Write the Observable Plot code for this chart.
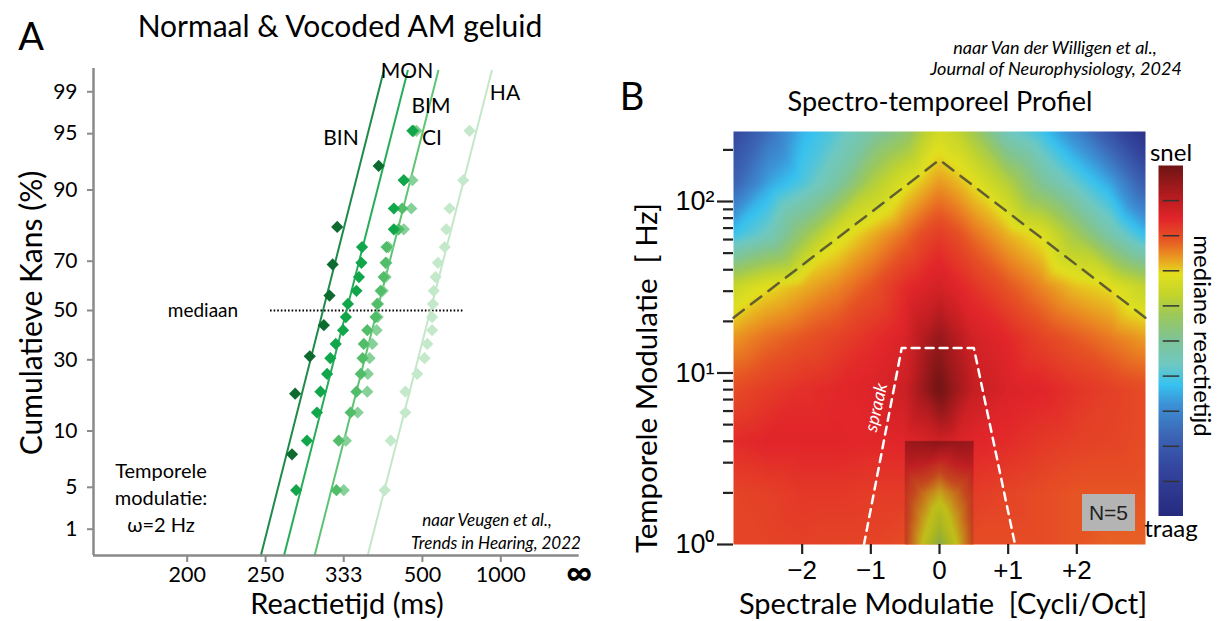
<!DOCTYPE html>
<html><head><meta charset="utf-8">
<script src="https://cdn.jsdelivr.net/npm/d3@7"></script>
<script src="https://cdn.jsdelivr.net/npm/@observablehq/plot@0.6"></script>
<style>
html,body{margin:0;padding:0;background:#fff;}
#wrap{position:relative;width:1223px;height:621px;overflow:hidden;font-family:Lato,sans-serif;color:#000;}
.abs{position:absolute;}
.t{position:absolute;white-space:pre;line-height:1.15;transform:translate(-50%,-50%);}
.it{font-style:italic;}
.tight{line-height:0.8;}
</style></head><body>
<div id="wrap">
  <div id="plotA" class="abs" style="left:0;top:0"></div>
  <div id="plotB" class="abs" style="left:600px;top:0"></div>
  <div id="cbar" class="abs" style="left:1158px;top:165px"></div>

  <div class="t" style="left:31px;top:36px;font-size:38px">A</div>
  <div class="t" style="left:340px;top:25px;font-size:30px">Normaal &amp; Vocoded AM geluid</div>
  <div class="t" style="left:30px;top:313px;font-size:30px;transform:translate(-50%,-50%) rotate(-90deg)">Cumulatieve Kans (%)</div>
  <div class="t tight" style="left:347px;top:603px;font-size:29px">Reactietijd (ms)</div>
  <div class="t" style="left:341px;top:137px;font-size:21px">BIN</div>
  <div class="t" style="left:407px;top:70px;font-size:21px">MON</div>
  <div class="t" style="left:431px;top:105px;font-size:21px">BIM</div>
  <div class="t" style="left:432px;top:137px;font-size:21px">CI</div>
  <div class="t" style="left:505px;top:92px;font-size:21px">HA</div>
  <div class="t" style="left:203px;top:310px;font-size:19px">mediaan</div>
  <div class="t" style="left:161px;top:497px;font-size:20px;text-align:center;line-height:27px">Temporele
modulatie:
ω=2 Hz</div>
  <div class="t it" style="left:487px;top:520px;font-size:17px">naar Veugen et al.,</div>
  <div class="t it" style="left:496px;top:543px;font-size:17px">Trends in Hearing, 2022</div>

  <div class="t" style="left:632px;top:96px;font-size:38px">B</div>
  <div class="t" style="left:940px;top:101px;font-size:27px">Spectro-temporeel Profiel</div>
  <div class="t it" style="left:1055px;top:47px;font-size:18px">naar Van der Willigen et al.,</div>
  <div class="t it" style="left:1056px;top:68px;font-size:18px">Journal of Neurophysiology, 2024</div>
  <div class="t" style="left:646px;top:378px;font-size:29.5px;transform:translate(-50%,-50%) rotate(-90deg)">Temporele Modulatie  [ Hz]</div>
  <div class="t tight" style="left:943px;top:603px;font-size:29px">Spectrale Modulatie  [Cycli/Oct]</div>
  <div class="t" style="left:1171px;top:152px;font-size:24px">snel</div>
  <div class="t" style="left:1171px;top:528px;font-size:24px">traag</div>
  <div class="t" style="left:1203px;top:336px;font-size:24px;transform:translate(-50%,-50%) rotate(90deg)">mediane reactietijd</div>
  <div class="abs" style="left:1082px;top:494px;width:53px;height:37px;background:#b4b4b4;font-family:'Liberation Sans',Arial,sans-serif;font-size:21px;line-height:37px;text-align:center;color:#222">N=5</div>
</div>
<script>
// ================= Panel A data =================
const cumPct8  = [6.3, 18.8, 31.3, 43.8, 56.3, 68.8, 81.3, 93.8];
const cumPct18 = [2.8, 8.3, 13.9, 19.4, 25.0, 30.6, 36.1, 41.7, 47.2, 52.8, 58.3, 63.9, 69.4, 75.0, 80.6, 86.1, 91.7, 97.2];
const rtBIN = [273, 276, 291, 307, 314, 318, 324, 391];
const rtMON = [277, 288, 299, 303, 311, 315, 322, 332, 336, 339, 352, 356, 360, 361, 423, 423, 447, 470];
const rtBIM = [323, 326, 343, 352, 359, 362, 364, 370, 385, 388, 395, 401, 405, 407, 434, 443, 447, 474];
const rtCI  = [333, 336, 354, 370, 371, 374, 379, 387, 389, 390, 399, 405, 407, 411, 447, 467, 470, 482];
const rtHA  = [403, 416, 451, 451, 484, 507, 516, 533, 533, 536, 539, 546, 555, 583, 590, 605, 676, 715];
const fitNames    = ["BIN", "MON", "BIM/CI", "HA"];
const fitMedianRT = [306, 337, 388, 527];      // ms at 50 %
const fitSlope    = [0.304, 0.306, 0.306, 0.307]; // 1/s per SD
const xTickRT     = [200, 250, 333, 500, 1000];
const yTickAt     = [1, 3, 10, 30, 50, 70, 90, 97, 99];
const yTickLabels = ["1", "5", "10", "30", "50", "70", "90", "95", "99"];
const medianLineRT = [254, 678];

// ================= Panel B data =================
const smX  = [-3, -2.5, -2, -1.5, -1, -0.5, -0.25, 0, 0.25, 0.5, 1, 1.5, 2, 2.5, 3];
const tmHz = [1, 2, 4, 8, 16, 32, 64, 128, 256];
// relative median reaction time: 0 = snel, 1 = traag ; rows follow tmHz
const rtGrid = [
  [0.19, 0.19, 0.185, 0.19, 0.19, 0.20, 0.20, 0.20, 0.20, 0.20, 0.20, 0.20, 0.21, 0.22, 0.22],
  [0.19, 0.185, 0.175, 0.175, 0.18, 0.18, 0.18, 0.18, 0.18, 0.18, 0.19, 0.20, 0.21, 0.21, 0.21],
  [0.16, 0.15, 0.15, 0.15, 0.155, 0.15, 0.14, 0.12, 0.14, 0.15, 0.16, 0.175, 0.185, 0.19, 0.20],
  [0.20, 0.18, 0.165, 0.155, 0.145, 0.12, 0.06, 0.00, 0.06, 0.11, 0.14, 0.15, 0.17, 0.185, 0.20],
  [0.26, 0.23, 0.21, 0.19, 0.165, 0.14, 0.09, 0.05, 0.09, 0.13, 0.155, 0.19, 0.215, 0.24, 0.265],
  [0.36, 0.31, 0.28, 0.25, 0.21, 0.16, 0.145, 0.13, 0.15, 0.17, 0.21, 0.25, 0.29, 0.31, 0.37],
  [0.62, 0.56, 0.44, 0.33, 0.28, 0.23, 0.20, 0.18, 0.20, 0.23, 0.28, 0.32, 0.42, 0.53, 0.63],
  [0.78, 0.66, 0.60, 0.52, 0.40, 0.32, 0.29, 0.26, 0.28, 0.31, 0.39, 0.50, 0.58, 0.66, 0.80],
  [0.86, 0.75, 0.64, 0.59, 0.52, 0.46, 0.39, 0.34, 0.37, 0.42, 0.56, 0.62, 0.71, 0.83, 0.96]
];
const insetX  = [-0.5, -0.25, 0, 0.25, 0.5];
const insetHz = [1, 1.41, 2, 2.83, 4];
const insetGrid = [
  [0.20, 0.31, 0.42, 0.31, 0.20],
  [0.19, 0.28, 0.35, 0.28, 0.19],
  [0.18, 0.24, 0.29, 0.24, 0.18],
  [0.15, 0.16, 0.19, 0.16, 0.15],
  [0.09, 0.08, 0.07, 0.08, 0.09]
];
const ridge  = [{sm: -3, hz: 21}, {sm: 0, hz: 175}, {sm: 3, hz: 21}];
const speech = [{sm: -1.1, hz: 1}, {sm: -0.55, hz: 14}, {sm: 0.5, hz: 14}, {sm: 1.1, hz: 1}];
const smTicks = [-2, -1, 0, 1, 2];
const tmMajor = [1, 10, 100];
const tmMinor = [2, 3, 4, 5, 6, 7, 8, 9, 20, 30, 40, 50, 60, 70, 80, 90, 200];
const cbTicks = [0.1, 0.2, 0.3, 0.4, 0.5, 0.6, 0.7, 0.8, 0.9];

// colour map (snel -> traag)
const cStops  = [0, 0.105, 0.153, 0.21, 0.247, 0.284, 0.31, 0.37, 0.426, 0.494, 0.568, 0.625, 0.68, 0.767, 0.864, 1];
const cColors = ["#6e1414","#c21e22","#e2262a","#e65424","#ea8422","#e8b820","#e2e01e","#c2d42c","#9cc85a","#80c494","#6ec8c2","#36c2f0","#3c92d6","#3c66b6","#34459e","#262a7e"];
const colorSpec = {type: "linear", domain: cStops, range: cColors, interpolate: "rgb", clamp: true};

// ---------- helpers ----------
function probit(p) {
  const a=[-3.969683028665376e+01,2.209460984245205e+02,-2.759285104469687e+02,1.383577518672690e+02,-3.066479806614716e+01,2.506628277459239e+00];
  const b=[-5.447609879822406e+01,1.615858368580409e+02,-1.556989798598866e+02,6.680131188771972e+01,-1.328068155288572e+01];
  const c=[-7.784894002430293e-03,-3.223964580411365e-01,-2.400758277161838e+00,-2.549732539343734e+00,4.374664141464968e+00,2.938163982698783e+00];
  const d=[7.784695709041462e-03,3.224671290700398e-01,2.445134137142996e+00,3.754408037684713e+00];
  const pl = 0.02425, ph = 1 - pl; let q, r;
  if (p < pl) { q = Math.sqrt(-2*Math.log(p)); return (((((c[0]*q+c[1])*q+c[2])*q+c[3])*q+c[4])*q+c[5])/((((d[0]*q+d[1])*q+d[2])*q+d[3])*q+1); }
  if (p <= ph) { q = p - 0.5; r = q*q; return (((((a[0]*r+a[1])*r+a[2])*r+a[3])*r+a[4])*r+a[5])*q/(((((b[0]*r+b[1])*r+b[2])*r+b[3])*r+b[4])*r+1); }
  q = Math.sqrt(-2*Math.log(1-p)); return -(((((c[0]*q+c[1])*q+c[2])*q+c[3])*q+c[4])*q+c[5])/((((d[0]*q+d[1])*q+d[2])*q+d[3])*q+1);
}

// ================= Panel A =================
const seriesDefs = [
  {name: "HA",  rt: rtHA,  pct: cumPct18, color: "#c4e9ca"},
  {name: "CI",  rt: rtCI,  pct: cumPct18, color: "#86d197"},
  {name: "BIM", rt: rtBIM, pct: cumPct18, color: "#52bd69"},
  {name: "MON", rt: rtMON, pct: cumPct18, color: "#12a64b"},
  {name: "BIN", rt: rtBIN, pct: cumPct8,  color: "#0e6b30"}
];
const fitColors = ["#1e8b49", "#27ad5a", "#5ec473", "#c3e7c8"];
const promptDomain = [6.195, 0];
const zDomain = [-2.606, 2.574];
const zLineTop = 2.55;
const yTickZ = yTickAt.map(p => probit(p / 100));
const yLabelByZ = new Map(yTickZ.map((z, i) => [z, yTickLabels[i]]));

const fitMarks = fitNames.map((name, i) => {
  const seg = [zDomain[0], zLineTop].map(z => ({P: 1000 / fitMedianRT[i] - fitSlope[i] * z, z}));
  return Plot.line(seg, {x: "P", y: "z", stroke: fitColors[i], strokeWidth: 2});
});
const dotMarks = seriesDefs.map(s => Plot.dot(s.rt.map((rt, i) => ({rt, pct: s.pct[i]})), {
  x: d => 1000 / d.rt, y: d => probit(d.pct / 100), symbol: "diamond2", r: 5.5, fill: s.color, stroke: "none"
}));

const plotA = Plot.plot({
  width: 600, height: 621,
  marginLeft: 93, marginRight: 21.3, marginTop: 68, marginBottom: 66,
  x: {domain: promptDomain},
  y: {domain: zDomain},
  style: {fontFamily: "Lato", fontSize: "21px", background: "transparent", overflow: "visible"},
  marks: [
    Plot.ruleY([0], {x1: 1000 / medianLineRT[0], x2: 1000 / medianLineRT[1], stroke: "#000", strokeWidth: 1.8, strokeDasharray: "1.6,2"}),
    ...fitMarks,
    ...dotMarks,
    Plot.ruleY([zDomain[0]], {stroke: "#8a8a8a", strokeWidth: 2.5}),
    Plot.ruleX([promptDomain[0]], {stroke: "#8a8a8a", strokeWidth: 2.5}),
    Plot.axisX({ticks: xTickRT.map(r => 1000 / r), tickFormat: p => String(Math.round(1000 / p)), tickSize: 7, tickPadding: 4,
      stroke: "#8a8a8a", strokeWidth: 2, fill: "#000", fontSize: 21.5, label: null}),
    Plot.axisX({ticks: [0], tickFormat: () => "\u221E", tickSize: 0, tickPadding: 4, fill: "#000", fontSize: 36, fontWeight: "bold", label: null}),
    Plot.axisY({ticks: yTickZ, tickFormat: z => yLabelByZ.get(z), tickSize: 6, tickPadding: 10,
      stroke: "#8a8a8a", strokeWidth: 2, fill: "#000", fontSize: 21, label: null})
  ]
});
document.getElementById("plotA").appendChild(plotA);

// ================= Panel B =================
const gridPts = tmHz.flatMap((hz, r) => smX.map((sm, c) => ({sm, ly: Math.log10(hz), v: rtGrid[r][c]})));
const insetPts = insetHz.flatMap((hz, r) => insetX.map((sm, c) => ({sm, ly: Math.log10(hz), v: insetGrid[r][c]})));
const lyTop = Math.log10(tmHz[tmHz.length - 1]);
const sup = {0: "\u2070", 1: "\u00B9", 2: "\u00B2"};

const plotB = Plot.plot({
  width: 623, height: 621,
  marginLeft: 133, marginRight: 78, marginTop: 131, marginBottom: 77,
  x: {domain: [smX[0], smX[smX.length - 1]]},
  y: {domain: [0, lyTop]},
  color: colorSpec,
  style: {fontFamily: "'Liberation Sans', Arial, sans-serif", fontSize: "26px", background: "transparent", overflow: "visible"},
  marks: [
    Plot.raster(gridPts, {x: "sm", y: "ly", fill: "v", interpolate: "barycentric", blur: 2,
      x1: smX[0], x2: smX[smX.length - 1], y1: 0, y2: lyTop}),
    Plot.raster(insetPts, {x: "sm", y: "ly", fill: "v", interpolate: "barycentric",
      x1: insetX[0], x2: insetX[insetX.length - 1], y1: 0, y2: Math.log10(insetHz[insetHz.length - 1])}),
    Plot.rect([{}], {x1: insetX[0], x2: insetX[insetX.length - 1], y1: 0, y2: Math.log10(insetHz[insetHz.length - 1]), fill: "#000", fillOpacity: 0.15}),
    Plot.line(ridge, {x: "sm", y: d => Math.log10(d.hz), stroke: "#4a4a34", strokeOpacity: 0.85, strokeWidth: 2.5, strokeDasharray: "13,9"}),
    Plot.line(speech, {x: "sm", y: d => Math.log10(d.hz), stroke: "#fff", strokeWidth: 2.5, strokeDasharray: "8,6"}),
    Plot.text([{sm: -0.92, hz: 6.3}], {x: "sm", y: d => Math.log10(d.hz), text: () => "spraak", rotate: -77, fill: "#fff",
      fontStyle: "italic", fontFamily: "Lato", fontSize: 18}),
    Plot.axisX({ticks: smTicks, tickFormat: d => d > 0 ? "+" + d : d < 0 ? "\u2212" + (-d) : "0", tickSize: 10, tickPadding: 6,
      stroke: "#222", strokeWidth: 2.2, fill: "#000", fontSize: 26, label: null}),
    Plot.axisY({ticks: tmMajor.map(Math.log10), tickFormat: d => "10" + sup[Math.round(d)], tickSize: 16, tickPadding: 3,
      stroke: "#222", strokeWidth: 2.2, fill: "#000", fontSize: 27, label: null}),
    Plot.axisY({ticks: tmMinor.map(Math.log10), tickFormat: () => "", tickSize: 10, stroke: "#222", strokeWidth: 2.2, label: null})
  ]
});
document.getElementById("plotB").appendChild(plotB);

// ================= colour bar =================
const cbar = Plot.plot({
  width: 25, height: 351, margin: 0,
  x: {domain: [0, 1], axis: null},
  y: {domain: [0, 1], reverse: true, axis: null},
  color: colorSpec,
  style: {background: "transparent"},
  marks: [
    Plot.raster({fill: (x, y) => y, x1: 0, x2: 1, y1: 0, y2: 1}),
    Plot.ruleY(cbTicks, {x1: 0.19, x2: 0.85, stroke: "#333", strokeWidth: 1.5})
  ]
});
document.getElementById("cbar").appendChild(cbar);
</script>
</body></html>
